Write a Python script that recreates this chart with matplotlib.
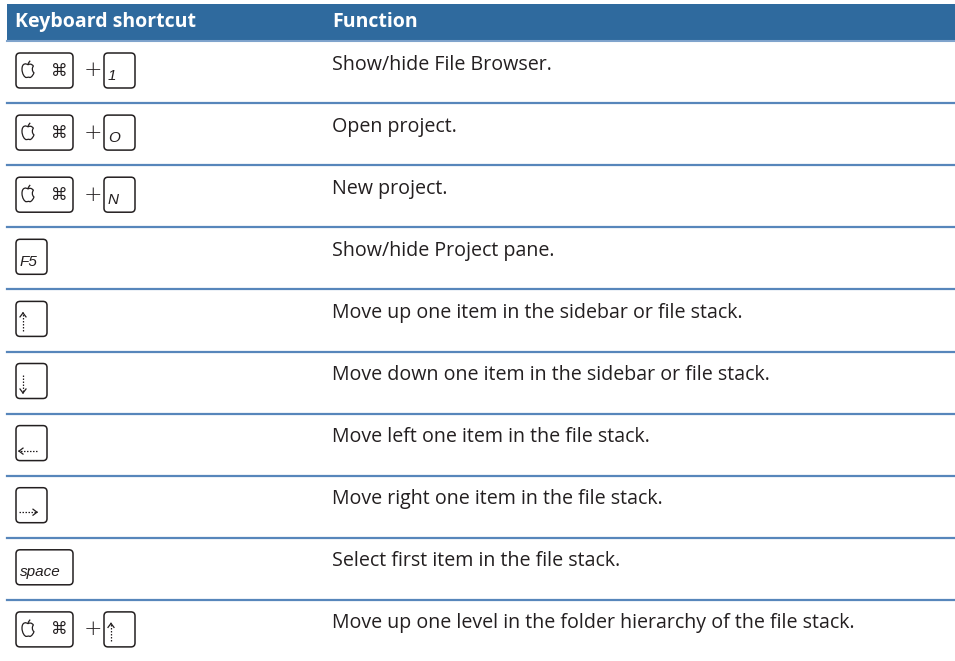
import matplotlib.pyplot as plt
from matplotlib.patches import FancyBboxPatch, PathPatch, Rectangle
from matplotlib.path import Path

# table content
headers = ["Keyboard shortcut", "Function"]
shortcuts = [["cmd", "1"], ["cmd", "O"], ["cmd", "N"], ["F5"], ["up"],
             ["down"], ["left"], ["right"], ["space"], ["cmd", "up"]]
functions = ["Show/hide File Browser.",
             "Open project.",
             "New project.",
             "Show/hide Project pane.",
             "Move up one item in the sidebar or file stack.",
             "Move down one item in the sidebar or file stack.",
             "Move left one item in the file stack.",
             "Move right one item in the file stack.",
             "Select first item in the file stack.",
             "Move up one level in the folder hierarchy of the file stack."]

HEAD_BLUE = "#2f6a9e"
LINE_BLUE = "#5786bb"
INK = "#231f20"
W, H = 955, 661
ROW_TOP = 41
ROW_H = 62.1
COL2_X = 332
TEXT_FONT = ["Open Sans", "DejaVu Sans"]
KEY_FONT = ["Liberation Sans", "DejaVu Sans"]


def key_box(ax, x, y, w, h=35):
    box = FancyBboxPatch((x, y), w, h,
                         boxstyle="round,pad=0,rounding_size=4",
                         fc="white", ec=INK, lw=1.1)
    ax.add_patch(box)


def apple(ax, cx, cy, s=12):
    # rough apple outline, y up in local coords
    verts = [(0, 0.55),
             (-0.15, 0.7), (-0.5, 0.7), (-0.5, 0.2),
             (-0.5, -0.2), (-0.28, -0.5), (-0.15, -0.5),
             (-0.05, -0.5), (0.05, -0.44), (0.15, -0.5),
             (0.3, -0.5), (0.45, -0.25), (0.5, -0.1),
             (0.33, 0.0), (0.32, 0.32), (0.45, 0.45),
             (0.3, 0.65), (0.12, 0.65), (0, 0.55),
             (0.0, 0.65), (0.18, 0.9)]
    codes = [Path.MOVETO] + [Path.CURVE4] * 18 + [Path.MOVETO, Path.LINETO]
    pts = [(cx + vx * s, cy - vy * s) for vx, vy in verts]
    ax.add_patch(PathPatch(Path(pts, codes), fc="none", ec=INK, lw=0.9))


def arrow(ax, x0, y0, x1, y1):
    # dotted shaft with a small open head at (x1, y1)
    ax.plot([x0, x1], [y0, y1], color=INK, lw=0.9, ls=(0, (1.2, 1.2)))
    dx, dy = x1 - x0, y1 - y0
    n = (dx ** 2 + dy ** 2) ** 0.5
    ux, uy = dx / n, dy / n
    px, py = -uy, ux
    for sgn in (1, -1):
        ax.plot([x1, x1 - 4 * ux + sgn * 3 * px],
                [y1, y1 - 4 * uy + sgn * 3 * py], color=INK, lw=0.9)


def draw_key(ax, key, x, top):
    cy = top + 12 + 17.5
    if key == "cmd":
        key_box(ax, x, top + 12, 57)
        apple(ax, x + 12, cy + 1)
        ax.text(x + 43, cy, "\u2318", ha="center", va="center",
                fontsize=12, color=INK, family=["DejaVu Sans"])
        return x + 57
    if key == "space":
        key_box(ax, x, top + 12, 57)
    else:
        key_box(ax, x, top + 12, 31)
    if key == "up":
        arrow(ax, x + 7, cy + 12, x + 7, cy - 6)
    elif key == "down":
        arrow(ax, x + 7, cy - 6, x + 7, cy + 12)
    elif key == "left":
        arrow(ax, x + 21, cy + 8, x + 3, cy + 8)
    elif key == "right":
        arrow(ax, x + 3, cy + 7, x + 21, cy + 7)
    else:
        ax.text(x + 4, cy + 5, key, ha="left", va="center", style="italic",
                fontsize=11, color=INK, family=KEY_FONT)
    return x + (57 if key == "space" else 31)


fig = plt.figure(figsize=(W / 100, H / 100), dpi=100)
ax = fig.add_axes([0, 0, 1, 1])
ax.set_xlim(0, W)
ax.set_ylim(H, 0)
ax.axis("off")

# header bar
ax.add_patch(Rectangle((7, 4), W - 7, 36, fc=HEAD_BLUE, ec="none"))
ax.plot([7, W], [40.5, 40.5], color="#7fa3cc", lw=1.5)
ax.text(15, 22, headers[0], color="white", fontsize=14, weight="bold",
        va="center", ha="left", family=TEXT_FONT)
ax.text(COL2_X, 22, headers[1], color="white", fontsize=14,
        weight="bold", va="center", ha="left", family=TEXT_FONT)

for i in range(len(functions)):
    top = ROW_TOP + i * ROW_H
    if i > 0:
        ax.plot([7, W], [top, top], color=LINE_BLUE, lw=1.6)
    ax.text(COL2_X, top + 23.5, functions[i], color=INK, fontsize=14.1,
            va="center", ha="left", family=TEXT_FONT)
    x = 16
    keys = shortcuts[i]
    for j in range(len(keys)):
        if j > 0:
            ax.text(x + 19.5, top + 29.5, "+", ha="center", va="center",
                    fontsize=16, color=INK, family=["DejaVu Sans"],
                    weight="light")
            x = x + 31
        x = draw_key(ax, keys[j], x, top)

fig.savefig("out.png", dpi=100)
